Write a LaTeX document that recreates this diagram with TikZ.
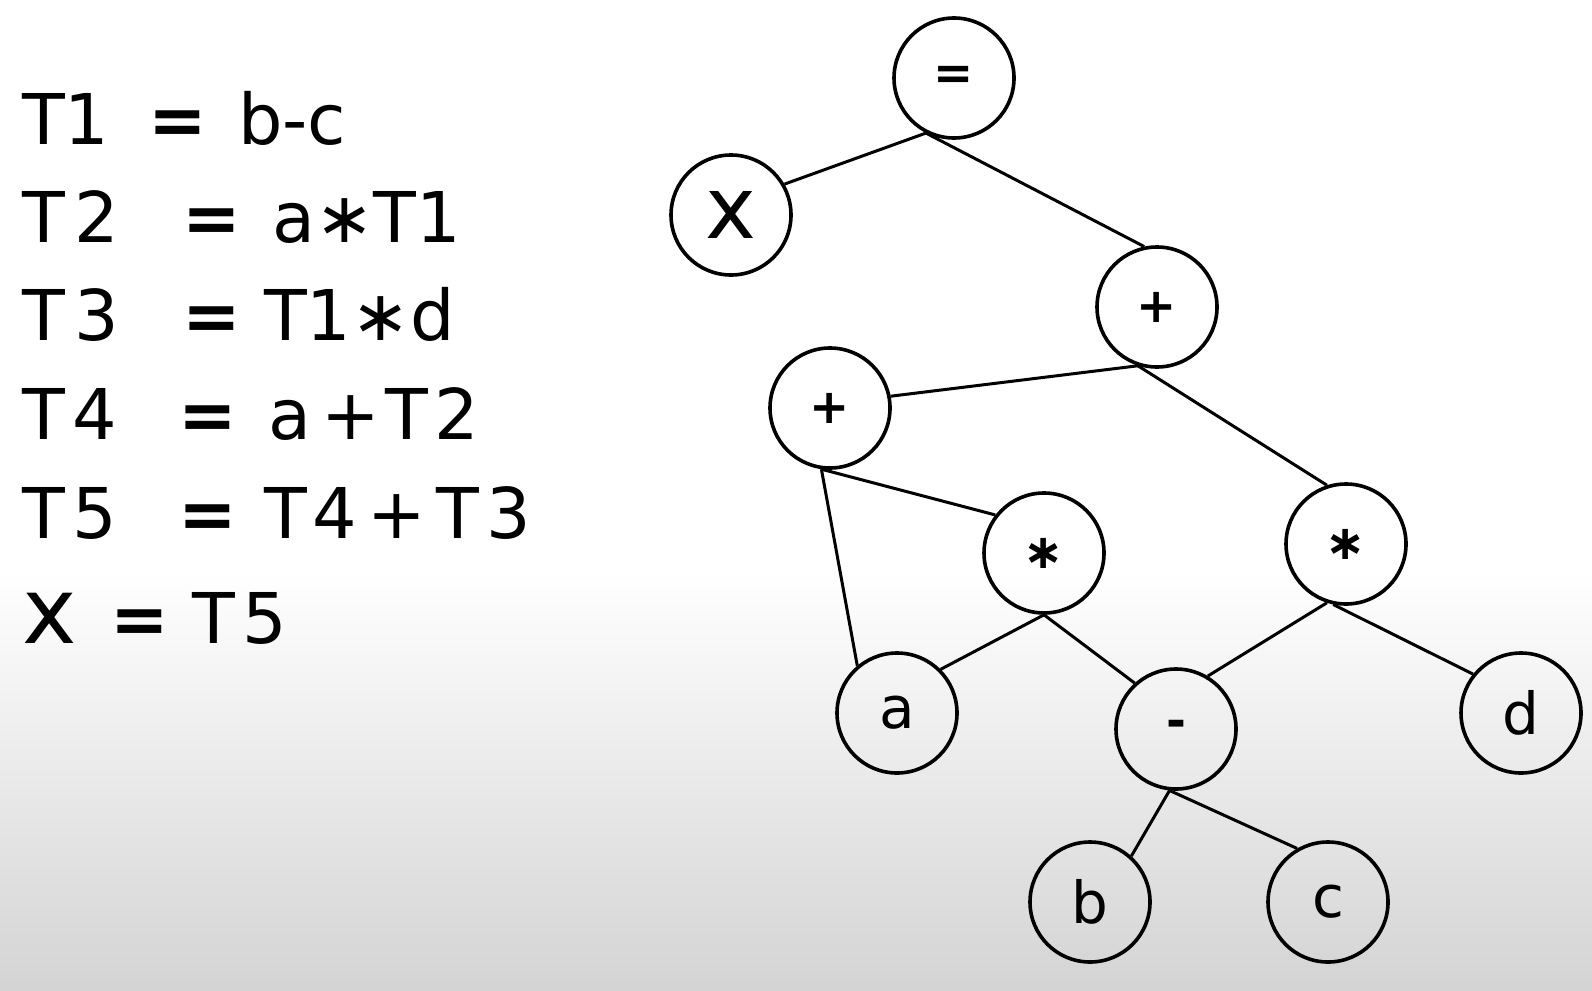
\documentclass[tikz,border=0pt]{standalone}
\usepackage{fontspec}
\setmainfont{DejaVu Sans}
\begin{document}
\begin{tikzpicture}[x=1pt,y=-1pt,
  vert/.style={circle, draw, line width=3.6pt, minimum size=120pt, inner sep=0pt, font=\fontsize{58}{60}\selectfont},
  opv/.style={vert, font=\fontsize{48}{50}\selectfont\bfseries},
  edge/.style={line width=3pt},
  eqtext/.style={anchor=base west, inner sep=0pt, font=\fontsize{70}{84}\selectfont}]
\useasboundingbox (0,0) rectangle (1592,990);
\fill[white] (0,0) rectangle (1592,570);
\shade[top color=white, bottom color=black!17] (0,570) rectangle (1592,990);
% left text
\node[eqtext] (l1a) at (22,144) {T1};
\node[eqtext] (l1b) at (148,144) {\bfseries =};
\node[eqtext] (l1c) at (238,144) {b-c};
\node[eqtext] (l2a) at (22,242) {T\hspace{10pt}2};
\node[eqtext] (l2b) at (182,242) {\bfseries =};
\node[eqtext] (l2c) at (272,242) {a∗T1};
\node[eqtext] (l3a) at (22,340) {T\hspace{10pt}3};
\node[eqtext] (l3b) at (182,340) {\bfseries =};
\node[eqtext] (l3c) at (264,340) {T1∗d};
\node[eqtext] (l4a) at (22,439) {T\hspace{8pt}4};
\node[eqtext] (l4b) at (178,439) {\bfseries =};
\node[eqtext] (l4c) at (268,439) {a\hspace{10pt}+\hspace{6pt}T\hspace{6pt}2};
\node[eqtext] (l5a) at (22,538) {T\hspace{8pt}5};
\node[eqtext] (l5b) at (178,538) {\bfseries =};
\node[eqtext] (l5c) at (264,538) {T\hspace{6pt}4\hspace{10pt}+\hspace{10pt}T\hspace{8pt}3};
\node[eqtext, font=\fontsize{92}{96}\selectfont] (l6a) at (22,643) {x};
\node[eqtext] (l6b) at (110,643) {\bfseries =};
\node[eqtext] (l6c) at (192,643) {T\hspace{8pt}5};
% tree nodes
\node[opv] (eq) at (954,78) {=};
\node[vert, font=\fontsize{86}{90}\selectfont] (x) at (731,215) {x};
\node[opv] (pt) at (1157,307) {+};
\node[opv] (pl) at (830,408) {+};
\node[opv] (ml) at (1044,553) {∗};
\node[opv] (mr) at (1346,544) {∗};
\node[vert] (a) at (897,713) {a};
\node[opv] (mn) at (1176,729) {-};
\node[vert] (d) at (1521,713) {d};
\node[vert] (b) at (1090,902) {b};
\node[vert] (c) at (1328,902) {c};
% edges
\draw[edge] (eq.-117) -- (x.30);
\draw[edge] (eq.-117) -- (pt.102);
\draw[edge] (pt.-108) -- (pl.11);
\draw[edge] (pt.-108) -- (mr.108);
\draw[edge] (pl.-98) -- (a.130);
\draw[edge] (pl.-98) -- (ml.142);
\draw[edge] (ml.-90) -- (a.45);
\draw[edge] (ml.-90) -- (mn.132);
\draw[edge] (mr.-108) -- (mn.59);
\draw[edge] (mr.-102) -- (d.141);
\draw[edge] (mn.-96) -- (b.48);
\draw[edge] (mn.-96) -- (c.120);
\end{tikzpicture}
\end{document}
